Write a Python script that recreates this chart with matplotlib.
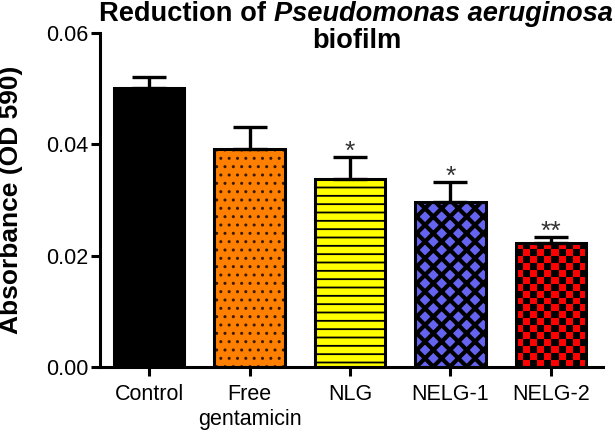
import numpy as np
import matplotlib.pyplot as plt
from matplotlib.colors import ListedColormap

plt.rcParams['font.family'] = ['Liberation Sans', 'DejaVu Sans']

# data
groups = ["Control", "Free\ngentamicin", "NLG", "NELG-1", "NELG-2"]
absorbance = [0.0502, 0.0392, 0.0338, 0.0296, 0.0223]
sem = [0.0019, 0.0039, 0.0039, 0.0036, 0.0011]
stars = ["", "", "*", "*", "**"]

# bar styles
face = ['black', '#ff8000', '#ffff00', '#6464f0', '#ff0000']
hatch_col = ['black', '#3a1a00', 'black', 'black', 'black']
hatches = [None, '..', '--', 'xx', None]
hatch_lw = [1.0, 1.0, 1.3, 3.0, 1.0]

fig = plt.figure(figsize=(6.15, 4.34), dpi=100)
ax = fig.add_axes([100/615, 1-367/434, 503/615, 334/434])

x = np.arange(len(groups))
w = 0.7
ymax = 0.06
ax_h_px = 334

for i in range(len(groups)):
    if groups[i] == "NELG-2":
        # checkerboard fill, ~7 px squares
        nrows = max(1, int(round(absorbance[i] / ymax * ax_h_px / 7)))
        ncols = 10
        pat = np.indices((nrows, ncols)).sum(axis=0) % 2
        ax.imshow(pat, cmap=ListedColormap([face[i], 'black']),
                  extent=[x[i]-w/2, x[i]+w/2, 0, absorbance[i]],
                  aspect='auto', interpolation='nearest', zorder=2)
    else:
        with plt.rc_context({'hatch.linewidth': hatch_lw[i]}):
            b = ax.bar(x[i], absorbance[i], w, color=face[i], edgecolor=hatch_col[i],
                       linewidth=0, hatch=hatches[i], zorder=2)
            for p in b:
                if hasattr(p, 'set_hatch_linewidth'):
                    p.set_hatch_linewidth(hatch_lw[i])

# outlines
ax.bar(x, absorbance, w, fill=False, edgecolor='black', linewidth=2.2, zorder=3)

# upper error bars only
ax.errorbar(x, absorbance, yerr=[np.zeros(len(sem)), sem], fmt='none',
            ecolor='black', elinewidth=2.4, capsize=12, capthick=2.4, zorder=4)

for i, s in enumerate(stars):
    if s:
        ax.annotate(s, xy=(x[i], absorbance[i] + sem[i]), xytext=(0, -2),
                    textcoords='offset pixels', ha='center', va='baseline',
                    fontsize=19, color='#333333')

ax.set_xlim(-0.49, 4.52)
ax.set_ylim(0, ymax)
ax.set_xticks(x)
ax.set_xticklabels(groups)
ax.set_yticks([0, 0.02, 0.04, 0.06])
ax.set_yticklabels(["0.00", "0.02", "0.04", "0.06"])

for side in ['top', 'right']:
    ax.spines[side].set_visible(False)
for side in ['left', 'bottom']:
    ax.spines[side].set_linewidth(2.2)

ax.tick_params(width=2.2, length=6.5, labelsize=15.5, direction='out')
ax.tick_params(axis='y', pad=2)
ax.tick_params(axis='x', pad=6)

ax.set_ylabel("Absorbance (OD 590)", fontsize=19, weight='bold')
ax.yaxis.set_label_coords(-0.153, 0.5)

# title with italic species name
t1 = fig.text(99/615, 1-1/434, "Reduction of ", fontsize=19.6, weight='bold',
              ha='left', va='top')
ax.annotate("Pseudomonas aeruginosa", xy=(1, 0), xycoords=t1, ha='left', va='bottom',
            fontsize=19.6, weight='bold', style='italic', annotation_clip=False)
fig.text(357/615, 1-28/434, "biofilm", fontsize=19.6, weight='bold', ha='center', va='top')

fig.savefig("out.png", dpi=100)
